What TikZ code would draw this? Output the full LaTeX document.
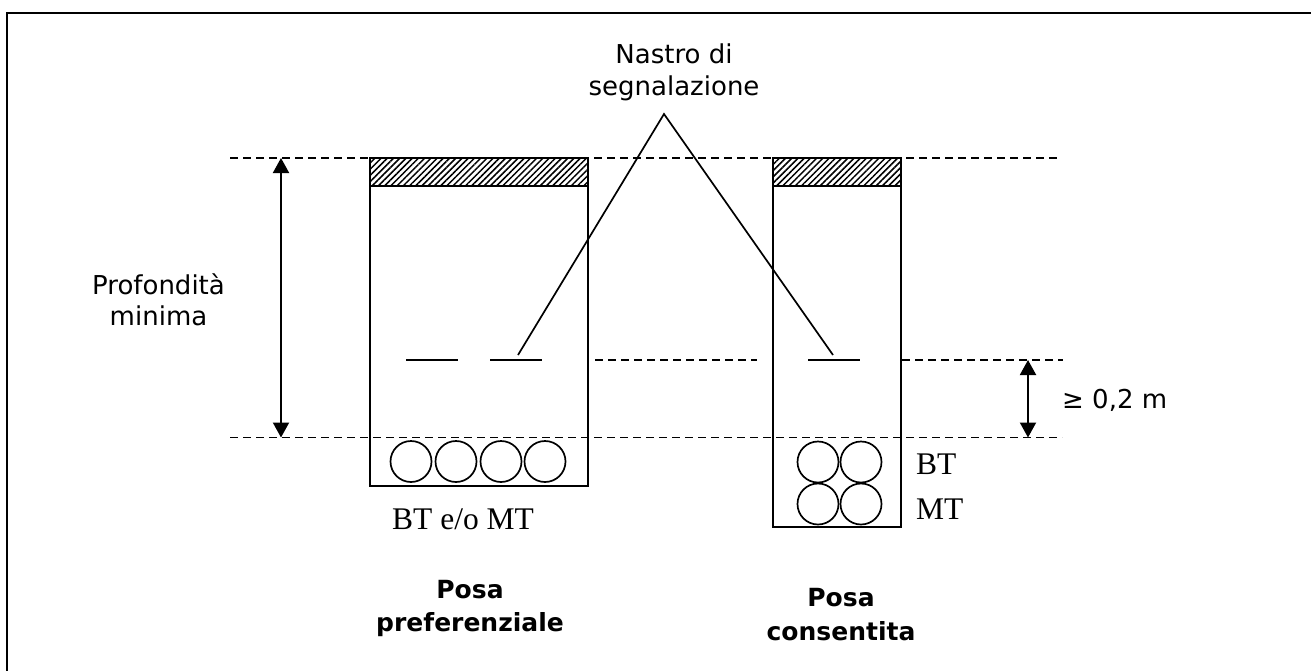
\documentclass[tikz,border=0pt]{standalone}
\usepackage{fontspec}
\setmainfont{DejaVu Sans}
\newfontfamily\timesfont{Liberation Serif}
\usetikzlibrary{arrows.meta,patterns.meta,positioning,calc}

\tikzset{
    trench/.style={line width=2pt},
    hatchband/.style={draw, line width=1.8pt, pattern={Lines[angle=45, distance=4.4pt, line width=1.5pt]}},
    quota/.style={dash pattern=on 8pt off 5pt, line width=1.6pt},
    tape/.style={line width=1.8pt},
    leader/.style={line width=1.7pt},
    cable/.style={circle, draw, line width=1.7pt, minimum size=41pt, inner sep=0pt},
    dimarrow/.style={line width=2pt, {Triangle[width=16pt,length=15pt]}-{Triangle[width=16pt,length=15pt]}},
    lbl/.style={font=\fontsize{26}{31.4}\selectfont, align=center, inner sep=0pt},
    posalbl/.style={font=\fontsize{25}{33.4}\selectfont\bfseries, align=center, inner sep=0pt},
    serlbl/.style={font=\fontsize{31.5}{36}\timesfont, inner sep=0pt}
}

\begin{document}
\begin{tikzpicture}[x=1pt, y=-1pt]
    \useasboundingbox (0,0) rectangle (1311,670);
    \clip (0,0) rectangle (1311,670);

    % Frame (cut at right and bottom)
    \draw[line width=2.6pt] (7,690) -- (7,13) -- (1330,13);

    % Reference levels
    \coordinate (topL) at (230,158);   \coordinate (topR) at (1058,158);
    \coordinate (botL) at (230,437.5); \coordinate (botR) at (1062,437.5);
    \draw[quota] (topL) -- (topR);
    \draw[quota] (botL) -- (botR);
    \draw[quota] (595,360) -- (757,360);
    \draw[quota] (902,360) -- (1063,360);

    % Trenches with hatched cover
    \draw[trench] (370,158) rectangle (588,486);
    \draw[hatchband] (370,158) rectangle (588,186);
    \draw[trench] (773,158) rectangle (901,527);
    \draw[hatchband] (773,158) rectangle (901,186);

    % Cables
    \foreach \x [count=\i] in {411,456,501,545} {
        \node[cable] (c\i) at (\x,461.5) {};
    }
    \foreach \x/\y/\n in {818/462/bt1, 861/462/bt2, 818/504/mt1, 861/504/mt2} {
        \node[cable] (\n) at (\x,\y) {};
    }

    % Warning tapes
    \draw[tape] (406,360) -- (458,360);
    \draw[tape] (490,360) -- (542,360);
    \draw[tape] (808,360) -- (860,360);

    % Leaders
    \coordinate (apex) at (664,114);
    \coordinate (tapeL) at (518,355);
    \coordinate (tapeR) at (833,355);
    \draw[leader] (tapeL) -- (apex) -- (tapeR);

    % Dimensions
    \coordinate (dimA) at (281,158);  \coordinate (dimB) at (281,437.5);
    \coordinate (dimC) at (1028,360); \coordinate (dimD) at (1028,437.5);
    \draw[dimarrow] (dimA) -- (dimB);
    \draw[dimarrow] (dimC) -- (dimD);

    % Labels (base = baseline of last line)
    \node[lbl, anchor=base] (nastro) at (674,95) {Nastro di\\segnalazione};
    \node[lbl, anchor=base] (profondita) at (158.5,325.7) {Profondità\\minima};
    \node[lbl, anchor=base west] (ge) at (1062,408) {≥ 0,2 m};
    \node[serlbl, anchor=base] (btmt) at (463,529.5) {BT e/o MT};
    \node[serlbl, anchor=base west] (bt) at (916,474) {BT};
    \node[serlbl, anchor=base west] (mt) at (916,519) {MT};
    \begin{scope}
        \clip (360,560) rectangle (600,636);
        \node[posalbl, anchor=base] (posapref) at (470,631.7) {Posa\\preferenziale};
    \end{scope}
    \node[posalbl, anchor=base] (posacons) at (841,640) {Posa\\consentita};
\end{tikzpicture}
\end{document}
